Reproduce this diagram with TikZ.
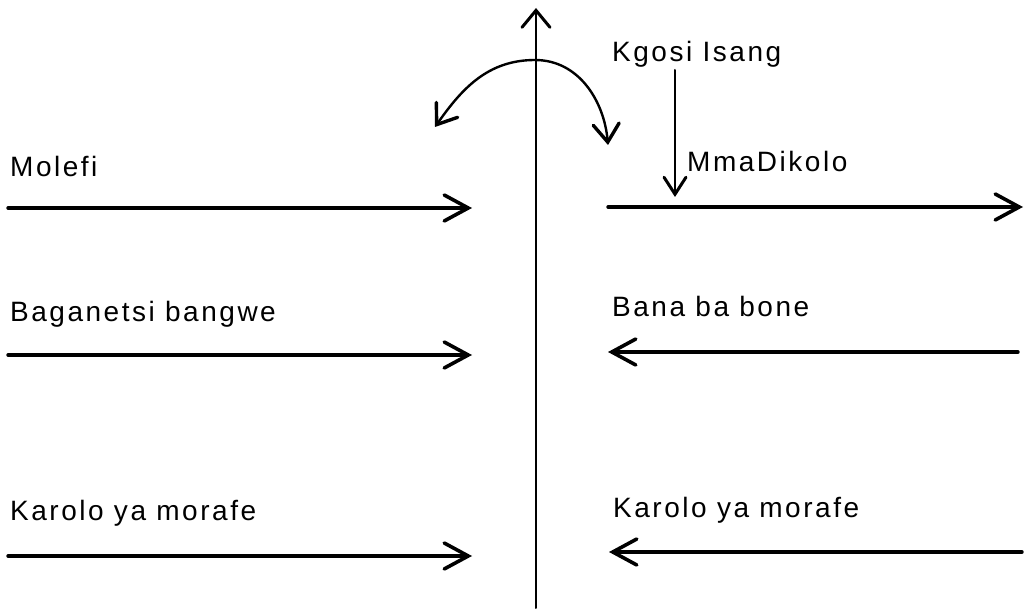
\documentclass[tikz,border=0pt]{standalone}
\usepackage{fontspec}
\setmainfont{Liberation Sans}[LetterSpace=9]
\usetikzlibrary{arrows.meta}

\begin{document}
\begin{tikzpicture}[x=1pt, y=1pt,
  lbl/.style={anchor=base west, inner sep=0pt, font=\fontsize{28}{32}\selectfont},
  bigarrow/.style={line width=3.4pt, line join=round, line cap=round,
    -{Straight Barb[length=24pt, width=26pt, line width=3.6pt, line cap=round]}},
  thinarrow/.style={line width=2pt, line cap=round,
    -{Straight Barb[length=17pt, width=22pt, line width=3pt, line cap=round]}}]
  \useasboundingbox (0,0) rectangle (1025,608);
  %\draw[help lines, step=50] (0,0) grid (1025,608);

  % the axis
  \coordinate (axb) at (536,0);
  \coordinate (axt) at (536,600);
  \draw[thinarrow, -{Straight Barb[length=17pt, width=28pt, line width=3pt, line cap=round]}] (axb)--(axt);

  % left side
  \node[lbl] (molefi) at (10, 431) {Molefi};
  \node[lbl] (bagan) at (10, 286) {Baganetsi bangwe};
  \node[lbl] (karl) at (10, 88) {Karolo ya morafe};
  \coordinate (l1a) at (8,400);  \coordinate (l1b) at (472,400);
  \coordinate (l2a) at (8,253);  \coordinate (l2b) at (472,253);
  \coordinate (l3a) at (8,52);   \coordinate (l3b) at (472,52);
  \draw[bigarrow] (l1a)--(l1b);
  \draw[bigarrow] (l2a)--(l2b);
  \draw[bigarrow] (l3a)--(l3b);

  % right side
  \node[lbl] (kgosi) at (612, 546) {Kgosi Isang};
  \node[lbl] (mma) at (687, 436) {MmaDikolo};
  \node[lbl] (bana) at (612, 291) {Bana ba bone};
  \node[lbl] (karr) at (613, 91) {Karolo ya morafe};
  \coordinate (r1a) at (608,401);  \coordinate (r1b) at (1023,401);
  \coordinate (r2a) at (1018,256); \coordinate (r2b) at (608,256);
  \coordinate (r3a) at (1022,56);  \coordinate (r3b) at (609,56);
  \draw[bigarrow] (r1a)--(r1b);
  \draw[bigarrow] (r2a)--(r2b);
  \draw[bigarrow] (r3a)--(r3b);
  \coordinate (kg) at (675,538);
  \coordinate (kgt) at (675,411);
  \draw[thinarrow] (kg)--(kgt);

  % the swing over the axis
  \coordinate (swr) at (608,463);
  \coordinate (swt) at (535,548);
  \coordinate (swl) at (435,481);
  \draw[thinarrow, line width=2.4pt, {Straight Barb[length=18pt, width=26pt, line width=3.4pt, line cap=round]}-{Straight Barb[length=18pt, width=26pt, line width=3.4pt, line cap=round]}]
    (swr) to[out=95, in=0] (swt) to[out=180, in=55] (swl);
\end{tikzpicture}
\end{document}
